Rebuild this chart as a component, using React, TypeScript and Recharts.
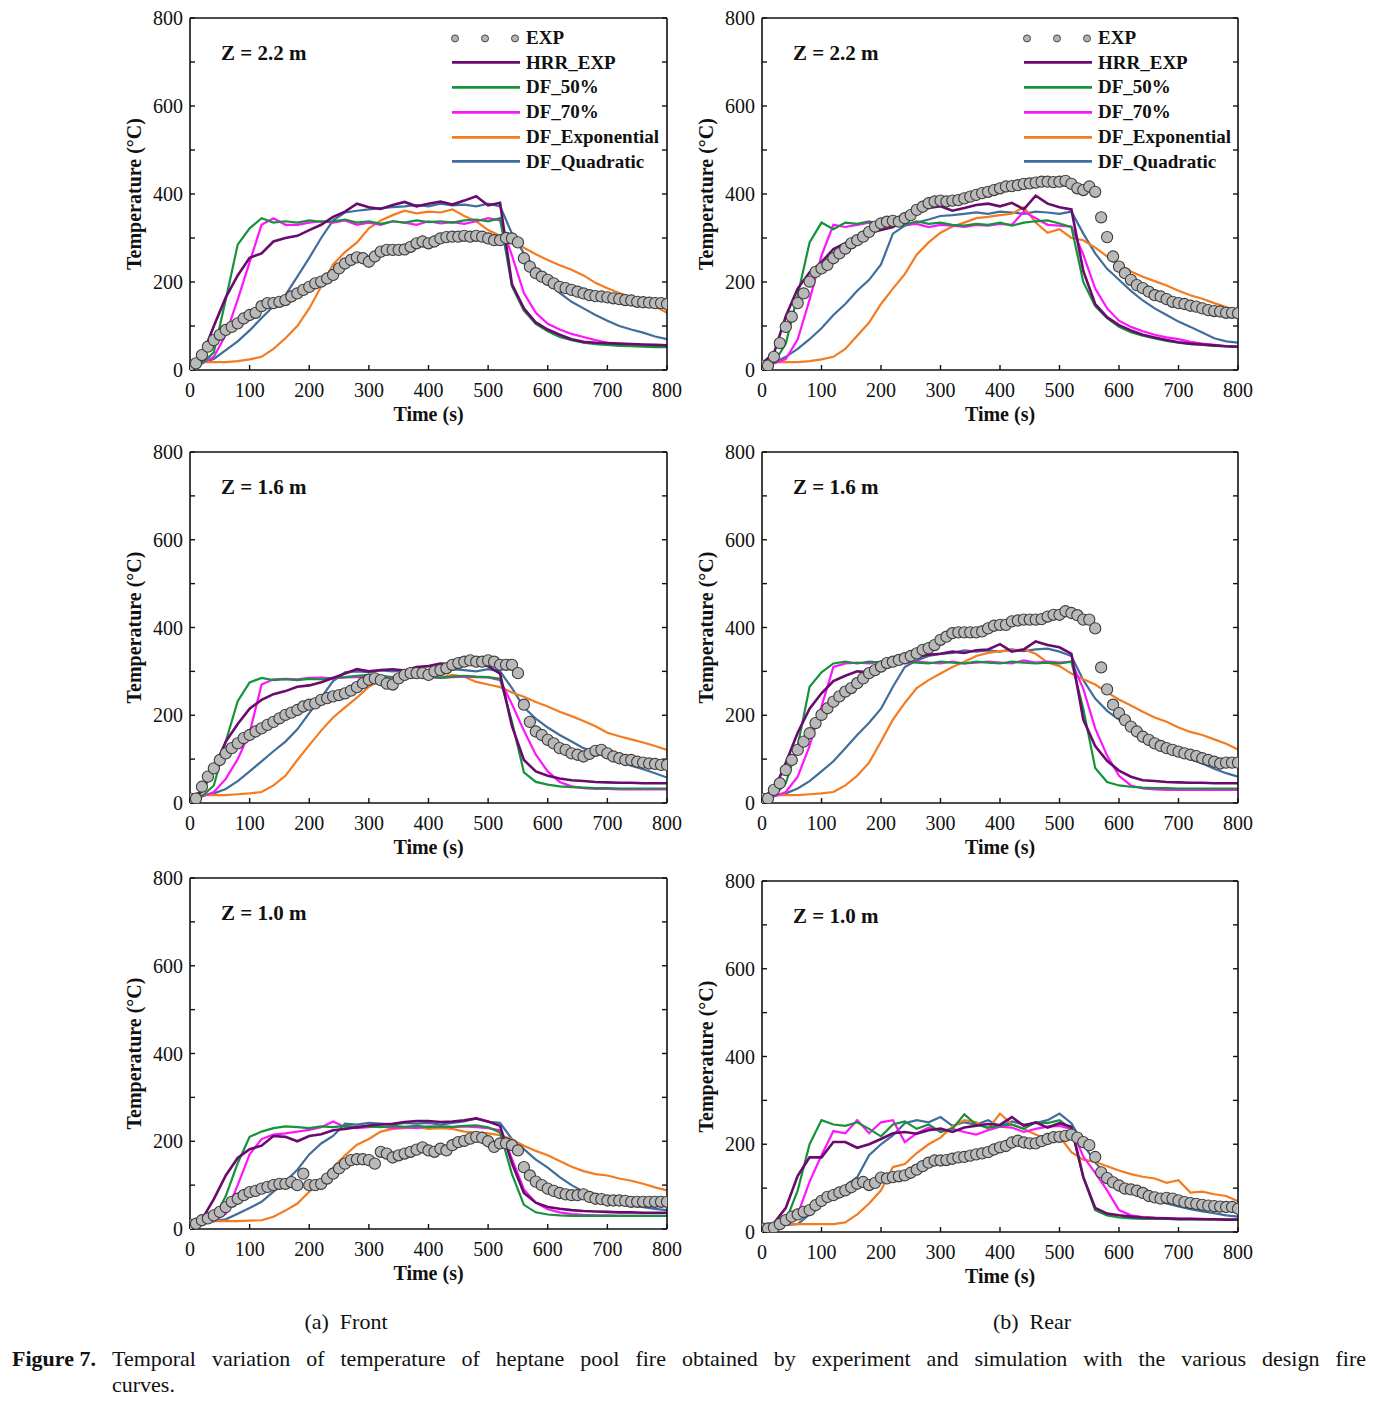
import React from "react";
import { ComposedChart, Line, Scatter, XAxis, YAxis, Legend } from "recharts";

// ─── Time bases (s) ───────────────────────────────────────────────────────────
const T20 = [
  0, 20, 40, 60, 80, 100, 120, 140, 160, 180, 200, 220, 240, 260, 280, 300, 320, 340, 360, 380, 400,
  420, 440, 460, 480, 500, 520, 540, 560, 580, 600, 620, 640, 660, 680, 700, 720, 740, 760, 780, 800,
];
const T10 = [
  0, 10, 20, 30, 40, 50, 60, 70, 80, 90, 100, 110, 120, 130, 140, 150, 160, 170, 180, 190, 200, 210,
  220, 230, 240, 250, 260, 270, 280, 290, 300, 310, 320, 330, 340, 350, 360, 370, 380, 390, 400, 410,
  420, 430, 440, 450, 460, 470, 480, 490, 500, 510, 520, 530, 540, 550, 560, 570, 580, 590, 600, 610,
  620, 630, 640, 650, 660, 670, 680, 690, 700, 710, 720, 730, 740, 750, 760, 770, 780, 790, 800,
];
const X_TICKS = [0, 100, 200, 300, 400, 500, 600, 700, 800];
const Y_TICKS = [0, 100, 200, 300, 400, 500, 600, 700, 800];

// ─── (a) Front, Z = 2.2 m ─────────────────────────────────────────────────────
const front22Exp = [10, 15, 34, 53, 68, 80, 91, 98, 106, 117, 125, 130, 145, 152, 152, 155, 159, 167, 174, 182, 189, 197, 201, 208, 216, 231, 242, 250, 256, 254, 246, 258, 269, 273, 273, 273, 274, 280, 288, 292, 288, 292, 299, 302, 303, 303, 305, 303, 305, 303, 299, 295, 295, 300, 299, 290, 254, 235, 220, 212, 205, 197, 189, 186, 182, 178, 174, 170, 168, 167, 165, 163, 161, 159, 158, 155, 154, 153, 152, 152, 150];
const front22Hrr = [15, 30, 100, 165, 215, 255, 265, 292, 300, 305, 318, 330, 348, 360, 378, 370, 366, 375, 382, 372, 378, 383, 376, 385, 395, 374, 380, 195, 140, 108, 92, 80, 70, 64, 62, 61, 60, 59, 58, 57, 56];
const front22Df50 = [15, 15, 40, 160, 285, 322, 345, 335, 338, 335, 340, 337, 338, 342, 335, 338, 332, 338, 335, 340, 336, 338, 335, 340, 342, 338, 345, 190, 135, 105, 88, 75, 68, 62, 59, 57, 55, 54, 53, 52, 52];
const front22Df70 = [15, 15, 30, 80, 160, 245, 330, 345, 330, 330, 335, 338, 335, 340, 330, 335, 330, 338, 335, 330, 338, 333, 336, 332, 338, 345, 340, 260, 175, 130, 105, 92, 82, 75, 68, 62, 58, 56, 55, 54, 53];
const front22DfExpo = [18, 18, 18, 18, 20, 24, 30, 48, 72, 100, 140, 190, 240, 268, 290, 322, 340, 352, 362, 356, 360, 358, 365, 350, 338, 318, 305, 292, 278, 263, 250, 238, 228, 215, 198, 186, 175, 166, 155, 145, 130];
const front22DfQuad = [15, 16, 25, 45, 65, 90, 118, 145, 170, 212, 255, 300, 340, 358, 362, 365, 368, 370, 372, 375, 372, 378, 374, 376, 372, 378, 372, 310, 265, 230, 203, 175, 155, 140, 125, 112, 100, 92, 85, 76, 70];

// ─── (b) Rear, Z = 2.2 m ──────────────────────────────────────────────────────
const rear22Exp = [10, 10, 30, 61, 98, 121, 152, 174, 201, 223, 231, 239, 254, 265, 276, 288, 295, 303, 314, 326, 333, 337, 339, 337, 345, 352, 364, 371, 379, 383, 385, 383, 385, 386, 390, 394, 398, 402, 405, 409, 413, 417, 418, 420, 423, 424, 426, 428, 428, 427, 428, 430, 423, 413, 409, 417, 405, 347, 302, 258, 235, 220, 205, 193, 186, 178, 170, 167, 161, 155, 152, 150, 146, 144, 140, 136, 134, 133, 130, 130, 129];
const rear22Hrr = [15, 38, 122, 185, 222, 245, 275, 288, 302, 312, 318, 325, 340, 360, 368, 372, 362, 368, 375, 378, 372, 380, 365, 396, 378, 370, 365, 225, 150, 120, 102, 90, 80, 74, 68, 63, 60, 58, 56, 54, 53];
const rear22Df50 = [15, 16, 60, 170, 290, 335, 320, 335, 332, 338, 330, 335, 330, 338, 332, 335, 330, 328, 332, 330, 335, 328, 335, 338, 340, 333, 325, 200, 145, 118, 98, 86, 78, 72, 66, 62, 59, 57, 55, 54, 53];
const rear22Df70 = [15, 15, 25, 70, 160, 260, 330, 325, 330, 335, 330, 335, 330, 332, 325, 330, 328, 325, 330, 328, 332, 330, 360, 345, 330, 328, 326, 262, 185, 140, 112, 98, 88, 80, 74, 70, 64, 60, 57, 54, 52];
const rear22DfExpo = [18, 18, 18, 18, 20, 24, 30, 48, 78, 108, 150, 185, 218, 262, 290, 312, 326, 335, 345, 348, 352, 355, 370, 335, 312, 320, 300, 295, 278, 258, 236, 224, 212, 202, 192, 180, 170, 162, 152, 143, 135];
const rear22DfQuad = [15, 16, 30, 48, 70, 95, 125, 150, 180, 205, 240, 310, 328, 335, 342, 350, 352, 355, 358, 355, 360, 358, 355, 360, 358, 355, 360, 310, 265, 230, 205, 180, 158, 140, 125, 110, 98, 85, 72, 65, 62];

// ─── (a) Front, Z = 1.6 m ─────────────────────────────────────────────────────
const front16Exp = [10, 10, 37, 60, 79, 98, 113, 125, 136, 148, 155, 163, 170, 178, 185, 193, 201, 206, 212, 220, 224, 227, 235, 239, 243, 246, 250, 256, 264, 273, 281, 284, 280, 272, 270, 284, 292, 296, 296, 296, 292, 300, 303, 307, 315, 319, 322, 325, 322, 322, 325, 322, 315, 315, 315, 296, 224, 185, 163, 155, 144, 136, 125, 121, 113, 110, 106, 112, 119, 121, 113, 106, 102, 98, 98, 94, 92, 90, 89, 87, 87];
const front16Hrr = [15, 25, 78, 140, 180, 215, 235, 248, 255, 265, 268, 275, 285, 295, 305, 300, 303, 305, 302, 310, 312, 318, 316, 320, 318, 312, 295, 175, 98, 72, 62, 56, 52, 50, 48, 47, 46, 46, 45, 45, 45];
const front16Df50 = [15, 15, 40, 140, 232, 275, 285, 280, 282, 280, 283, 282, 285, 287, 290, 292, 290, 287, 285, 288, 290, 285, 288, 290, 288, 287, 283, 185, 70, 48, 42, 38, 36, 35, 34, 34, 33, 33, 33, 33, 33];
const front16Df70 = [15, 15, 25, 55, 100, 160, 270, 282, 283, 282, 285, 286, 284, 286, 287, 288, 286, 287, 286, 288, 286, 285, 287, 288, 287, 286, 280, 225, 165, 110, 72, 48, 38, 34, 32, 32, 31, 31, 31, 31, 31];
const front16DfExpo = [18, 18, 18, 18, 20, 22, 25, 40, 62, 98, 132, 165, 195, 218, 240, 265, 280, 283, 285, 287, 288, 286, 292, 288, 276, 270, 264, 252, 242, 230, 220, 208, 198, 187, 175, 160, 152, 145, 138, 130, 121];
const front16DfQuad = [15, 16, 22, 32, 50, 72, 95, 118, 140, 168, 205, 240, 278, 298, 300, 298, 302, 300, 303, 300, 302, 300, 305, 303, 300, 305, 300, 262, 218, 192, 172, 155, 140, 125, 115, 103, 95, 85, 77, 68, 58];

// ─── (b) Rear, Z = 1.6 m ──────────────────────────────────────────────────────
const rear16Exp = [10, 10, 30, 45, 75, 98, 121, 140, 159, 182, 201, 216, 231, 243, 254, 262, 273, 284, 296, 303, 311, 319, 322, 326, 330, 335, 341, 349, 353, 360, 372, 379, 387, 389, 389, 389, 389, 391, 398, 404, 406, 406, 414, 416, 418, 418, 418, 419, 425, 429, 429, 437, 433, 428, 418, 418, 398, 309, 259, 224, 205, 189, 174, 163, 151, 144, 136, 130, 125, 121, 117, 113, 110, 107, 102, 98, 94, 90, 92, 92, 92];
const rear16Hrr = [15, 28, 92, 160, 215, 250, 278, 290, 300, 298, 312, 325, 330, 333, 338, 340, 345, 342, 348, 350, 362, 345, 350, 368, 360, 355, 340, 190, 130, 96, 74, 60, 52, 50, 48, 47, 46, 46, 45, 45, 45];
const rear16Df50 = [15, 16, 45, 130, 265, 298, 318, 322, 318, 322, 320, 318, 322, 320, 318, 322, 320, 318, 322, 320, 318, 322, 320, 318, 320, 318, 322, 215, 80, 48, 40, 37, 35, 34, 34, 33, 33, 33, 33, 33, 33];
const rear16Df70 = [15, 15, 25, 60, 130, 220, 310, 318, 320, 318, 322, 320, 318, 322, 320, 318, 322, 318, 320, 322, 320, 318, 325, 320, 322, 320, 322, 260, 170, 108, 62, 40, 33, 31, 30, 30, 30, 30, 30, 30, 30];
const rear16DfExpo = [18, 18, 18, 18, 20, 22, 25, 40, 62, 92, 140, 190, 228, 262, 280, 295, 310, 322, 335, 342, 346, 348, 350, 340, 320, 312, 295, 282, 270, 252, 236, 222, 208, 195, 185, 172, 162, 155, 145, 135, 122];
const rear16DfQuad = [15, 16, 22, 33, 50, 72, 95, 125, 155, 183, 215, 265, 310, 325, 335, 340, 342, 348, 345, 348, 345, 350, 346, 350, 352, 345, 335, 280, 238, 210, 190, 172, 155, 140, 128, 112, 100, 90, 78, 68, 60];

// ─── (a) Front, Z = 1.0 m ─────────────────────────────────────────────────────
const front10Exp = [10, 12, 20, 24, 31, 39, 50, 62, 69, 77, 84, 87, 92, 96, 100, 103, 103, 107, 100, 126, 100, 100, 103, 115, 126, 138, 149, 157, 159, 159, 157, 149, 176, 172, 163, 168, 172, 176, 181, 186, 179, 176, 183, 179, 191, 198, 201, 206, 210, 208, 200, 187, 195, 195, 191, 179, 141, 122, 108, 100, 92, 87, 82, 79, 77, 77, 79, 73, 69, 68, 65, 65, 65, 64, 62, 62, 62, 62, 62, 62, 62];
const front10Hrr = [15, 22, 68, 122, 162, 182, 190, 212, 210, 200, 212, 216, 225, 228, 232, 236, 238, 240, 244, 246, 246, 244, 245, 248, 252, 245, 235, 150, 82, 60, 50, 46, 43, 41, 40, 39, 38, 38, 37, 37, 37];
const front10Df50 = [15, 15, 22, 75, 150, 210, 222, 230, 234, 232, 230, 234, 232, 235, 233, 234, 232, 235, 233, 235, 232, 234, 233, 235, 236, 232, 220, 125, 55, 38, 33, 31, 30, 30, 30, 30, 30, 30, 30, 30, 30];
const front10Df70 = [15, 15, 18, 35, 100, 170, 205, 215, 218, 222, 226, 232, 245, 232, 230, 232, 234, 230, 232, 230, 234, 233, 232, 234, 232, 230, 225, 160, 90, 60, 45, 38, 34, 32, 31, 31, 30, 30, 30, 30, 30];
const front10DfExpo = [18, 18, 18, 18, 18, 19, 20, 28, 42, 58, 85, 112, 140, 168, 192, 205, 222, 228, 230, 232, 228, 230, 228, 222, 220, 218, 214, 204, 190, 178, 168, 155, 142, 132, 125, 122, 115, 110, 103, 95, 88];
const front10DfQuad = [15, 16, 18, 22, 35, 48, 62, 85, 108, 135, 170, 195, 212, 240, 238, 242, 240, 238, 242, 240, 242, 238, 242, 245, 252, 244, 242, 205, 182, 158, 140, 118, 100, 85, 76, 68, 62, 55, 50, 46, 43];

// ─── (b) Rear, Z = 1.0 m ──────────────────────────────────────────────────────
const rear10Exp = [8, 8, 10, 18, 27, 35, 40, 46, 50, 61, 71, 80, 84, 90, 95, 102, 110, 114, 107, 112, 124, 122, 125, 127, 129, 135, 142, 150, 158, 163, 163, 164, 167, 170, 171, 174, 177, 179, 182, 188, 193, 196, 204, 208, 204, 202, 202, 207, 212, 216, 217, 219, 222, 215, 205, 198, 171, 136, 123, 113, 106, 99, 97, 94, 89, 82, 79, 76, 78, 76, 72, 68, 66, 64, 62, 60, 59, 58, 57, 57, 53];
const rear10Hrr = [15, 20, 55, 128, 170, 170, 205, 205, 192, 200, 212, 225, 228, 224, 232, 236, 228, 238, 242, 246, 244, 262, 242, 250, 238, 248, 240, 125, 55, 42, 38, 35, 33, 32, 31, 30, 30, 29, 29, 28, 28];
const rear10Df50 = [15, 15, 25, 95, 200, 255, 245, 242, 250, 235, 218, 245, 252, 235, 245, 228, 235, 268, 245, 238, 242, 245, 235, 250, 248, 255, 235, 125, 50, 38, 33, 31, 30, 30, 30, 29, 29, 29, 29, 29, 29];
const rear10Df70 = [15, 15, 18, 40, 115, 175, 230, 225, 255, 225, 250, 255, 205, 225, 238, 230, 235, 228, 222, 232, 240, 238, 228, 235, 240, 242, 235, 172, 135, 95, 50, 38, 34, 32, 31, 30, 30, 30, 29, 29, 29];
const rear10DfExpo = [18, 18, 18, 18, 18, 18, 18, 22, 40, 65, 95, 148, 155, 180, 200, 215, 240, 255, 250, 235, 270, 245, 235, 222, 210, 218, 182, 165, 160, 150, 140, 132, 126, 122, 112, 118, 90, 92, 86, 82, 70];
const rear10DfQuad = [15, 15, 16, 18, 40, 62, 85, 105, 125, 175, 200, 220, 248, 255, 250, 262, 242, 250, 245, 255, 240, 252, 245, 248, 255, 270, 248, 200, 158, 130, 112, 92, 82, 75, 65, 58, 52, 47, 43, 38, 35];

// ─── Styling ──────────────────────────────────────────────────────────────────
const SERIF = '"Liberation Serif", "Times New Roman", serif';
const COLORS = {
  hrr: "#6a0a6e",
  df50: "#14933a",
  df70: "#ff14ff",
  expo: "#f47b20",
  quad: "#3f6e9c",
};
const LINE_SERIES = [
  { key: "hrr", name: "HRR_EXP", color: COLORS.hrr, width: 2.6 },
  { key: "df50", name: "DF_50%", color: COLORS.df50, width: 2.2 },
  { key: "df70", name: "DF_70%", color: COLORS.df70, width: 2.2 },
  { key: "expo", name: "DF_Exponential", color: COLORS.expo, width: 2.2 },
  { key: "quad", name: "DF_Quadratic", color: COLORS.quad, width: 2.2 },
];

const toPoints = (times: number[], vals: number[]) => vals.map((v, i) => ({ t: times[i], v }));

type Panel = {
  left: number;
  top: number;
  w: number;
  h: number;
  z: string;
  legend: boolean;
  exp: number[];
  hrr: number[];
  df50: number[];
  df70: number[];
  expo: number[];
  quad: number[];
};

const PANELS: Panel[] = [
  { left: 190, top: 18, w: 477, h: 352, z: "Z = 2.2 m", legend: true, exp: front22Exp, hrr: front22Hrr, df50: front22Df50, df70: front22Df70, expo: front22DfExpo, quad: front22DfQuad },
  { left: 762, top: 18, w: 476, h: 352, z: "Z = 2.2 m", legend: true, exp: rear22Exp, hrr: rear22Hrr, df50: rear22Df50, df70: rear22Df70, expo: rear22DfExpo, quad: rear22DfQuad },
  { left: 190, top: 452, w: 477, h: 351, z: "Z = 1.6 m", legend: false, exp: front16Exp, hrr: front16Hrr, df50: front16Df50, df70: front16Df70, expo: front16DfExpo, quad: front16DfQuad },
  { left: 762, top: 452, w: 476, h: 351, z: "Z = 1.6 m", legend: false, exp: rear16Exp, hrr: rear16Hrr, df50: rear16Df50, df70: rear16Df70, expo: rear16DfExpo, quad: rear16DfQuad },
  { left: 190, top: 878, w: 477, h: 351, z: "Z = 1.0 m", legend: false, exp: front10Exp, hrr: front10Hrr, df50: front10Df50, df70: front10Df70, expo: front10DfExpo, quad: front10DfQuad },
  { left: 762, top: 881, w: 476, h: 351, z: "Z = 1.0 m", legend: false, exp: rear10Exp, hrr: rear10Hrr, df50: rear10Df50, df70: rear10Df70, expo: rear10DfExpo, quad: rear10DfQuad },
];

const AXIS_W = 80; // left axis box
const TOP_H = 10;
const BOTTOM_H = 60;
const RIGHT_W = 10;
const RIGHT_PAD = 24; // room for the last x tick label

const axisLine = { stroke: "#111", strokeWidth: 1.6 };
const tickLine = { stroke: "#111", strokeWidth: 1.4 };
const tickFont = { fill: "#111", fontSize: 20, fontFamily: SERIF };

// ─── Legend ───────────────────────────────────────────────────────────────────
function FigureLegend() {
  const rowH = 24.8;
  return (
    <div style={{ fontFamily: SERIF, fontWeight: "bold", fontSize: 19, color: "#111" }}>
      <div style={{ display: "flex", alignItems: "center", height: rowH }}>
        <svg width={76} height={rowH}>
          {[5, 35, 65].map((cx) => (
            <circle key={cx} cx={cx} cy={rowH / 2} r={3.5} fill="#b4b4b4" stroke="#444" strokeWidth={1} />
          ))}
        </svg>
        <span>EXP</span>
      </div>
      {LINE_SERIES.map((s) => (
        <div key={s.key} style={{ display: "flex", alignItems: "center", height: rowH }}>
          <svg width={76} height={rowH}>
            <line x1={2} x2={70} y1={rowH / 2} y2={rowH / 2} stroke={s.color} strokeWidth={2.6} />
          </svg>
          <span>{s.name}</span>
        </div>
      ))}
    </div>
  );
}

// ─── Expt. marker ─────────────────────────────────────────────────────────────
function ExpDot(props: any) {
  const { cx, cy } = props;
  if (cx == null || cy == null) return null;
  return <circle cx={cx} cy={cy} r={5.6} fill="#b9b9b9" stroke="#3c3c3c" strokeWidth={1.1} />;
}

// ─── One panel ────────────────────────────────────────────────────────────────
function TempPanel({ p }: { p: Panel }) {
  const width = AXIS_W + p.w + RIGHT_W + RIGHT_PAD;
  const height = TOP_H + p.h + BOTTOM_H;
  return (
    <div style={{ position: "absolute", left: p.left - AXIS_W, top: p.top - TOP_H }}>
      <ComposedChart width={width} height={height} margin={{ top: 0, right: RIGHT_PAD, bottom: 0, left: 0 }}>
        <XAxis
          xAxisId="b"
          dataKey="t"
          type="number"
          orientation="bottom"
          domain={[0, 800]}
          ticks={X_TICKS}
          interval={0}
          allowDataOverflow
          height={BOTTOM_H}
          tickSize={-5}
          tickMargin={18}
          axisLine={axisLine}
          tickLine={tickLine}
          tick={tickFont}
          label={{
            value: "Time (s)",
            position: "insideBottom",
            offset: 9,
            style: { fill: "#111", fontSize: 20, fontWeight: "bold", fontFamily: SERIF },
          }}
        />
        <XAxis
          xAxisId="t"
          type="number"
          orientation="top"
          domain={[0, 800]}
          ticks={X_TICKS}
          interval={0}
          allowDataOverflow
          height={TOP_H}
          tickSize={-5}
          tickFormatter={() => ""}
          axisLine={axisLine}
          tickLine={tickLine}
        />
        <YAxis
          yAxisId="l"
          dataKey="v"
          type="number"
          domain={[0, 800]}
          ticks={Y_TICKS}
          interval={0}
          allowDataOverflow
          width={AXIS_W}
          tickSize={-5}
          tickMargin={12}
          tickFormatter={(v: number) => (v % 200 === 0 ? String(v) : "")}
          axisLine={axisLine}
          tickLine={tickLine}
          tick={tickFont}
          label={{
            value: "Temperature (°C)",
            angle: -90,
            position: "insideLeft",
            offset: 24,
            style: { textAnchor: "middle", fill: "#111", fontSize: 20, fontWeight: "bold", fontFamily: SERIF },
          }}
        />
        <YAxis
          yAxisId="r"
          type="number"
          orientation="right"
          domain={[0, 800]}
          ticks={Y_TICKS}
          interval={0}
          allowDataOverflow
          width={RIGHT_W}
          tickSize={-5}
          tickFormatter={() => ""}
          axisLine={axisLine}
          tickLine={tickLine}
        />
        {[...LINE_SERIES].reverse().map((s) => (
          <Line
            key={s.key}
            xAxisId="b"
            yAxisId="l"
            data={toPoints(T20, (p as any)[s.key])}
            dataKey="v"
            name={s.name}
            type="linear"
            stroke={s.color}
            strokeWidth={s.width}
            dot={false}
            activeDot={false}
            isAnimationActive={false}
          />
        ))}
        <Scatter
          xAxisId="b"
          yAxisId="l"
          data={toPoints(T10, p.exp)}
          dataKey="v"
          name="EXP"
          shape={<ExpDot />}
          isAnimationActive={false}
        />
        {p.legend && (
          <Legend
            layout="vertical"
            align="center"
            verticalAlign="middle"
            content={() => <FigureLegend />}
            wrapperStyle={{ left: 340, top: 17.5, width: "auto", height: "auto" }}
          />
        )}
      </ComposedChart>
      <div
        style={{
          position: "absolute",
          left: AXIS_W + 31,
          top: TOP_H + 25,
          fontFamily: SERIF,
          fontWeight: "bold",
          fontSize: 21,
          lineHeight: "21px",
          color: "#111",
          whiteSpace: "nowrap",
        }}
      >
        {p.z}
      </div>
    </div>
  );
}

// ─── Figure ───────────────────────────────────────────────────────────────────
export default function App() {
  const captionStyle: React.CSSProperties = {
    position: "absolute",
    fontFamily: SERIF,
    fontSize: 22,
    lineHeight: "26px",
    color: "#111",
    whiteSpace: "nowrap",
  };
  return (
    <div style={{ position: "absolute", left: 0, top: 0, width: 1384, height: 1402, background: "#fff", overflow: "hidden" }}>
      {PANELS.map((p, i) => (
        <TempPanel key={i} p={p} />
      ))}
      <div style={{ ...captionStyle, left: 246, top: 1309, width: 200, textAlign: "center" }}>(a)&nbsp; Front</div>
      <div style={{ ...captionStyle, left: 932, top: 1309, width: 200, textAlign: "center" }}>(b)&nbsp; Rear</div>
      <div style={{ ...captionStyle, left: 12, top: 1346, width: 1354, display: "flex" }}>
        <span style={{ fontWeight: "bold", width: 100, flex: "none" }}>Figure 7.</span>
        <span style={{ flex: 1, textAlign: "justify", textAlignLast: "justify", whiteSpace: "normal" }}>
          Temporal variation of temperature of heptane pool fire obtained by experiment and simulation with the various design fire
        </span>
      </div>
      <div style={{ ...captionStyle, left: 112, top: 1372 }}>curves.</div>
    </div>
  );
}
